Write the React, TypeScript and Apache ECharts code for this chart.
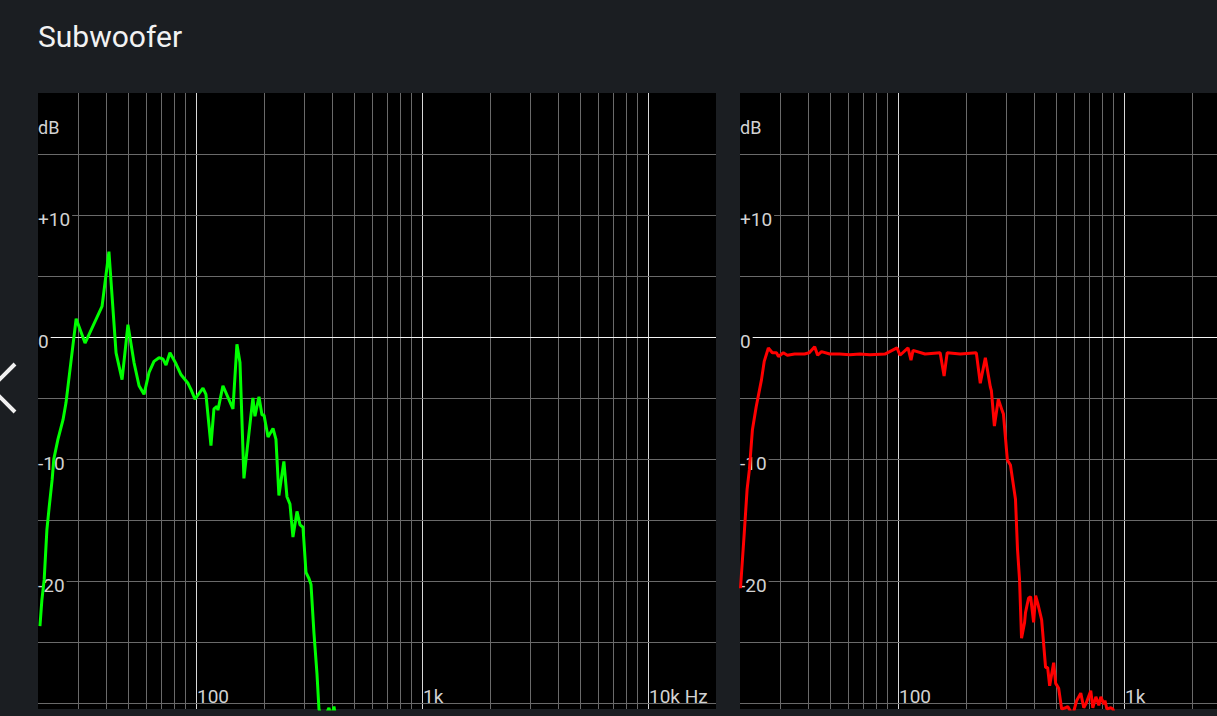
import { useEffect, useRef } from 'react';
import * as echarts from 'echarts';

// Left panel: measured subwoofer response (green)
const subFreq = [
  20.4, 20.8, 21.3, 21.9, 22.4, 23.1, 23.5, 24.5, 25.8, 26.6, 29.5, 32.3, 38.4, 41.2, 44.3, 47.1,
  50.0, 53.2, 56.0, 58.9, 62.0, 65.2, 68.6, 71.4, 73.7, 76.7, 81.6, 85.9, 92.2, 95.0, 99.0,
  107.4, 110.7, 116.5, 120.1, 123.8, 125.1, 131.6, 145.8, 151.8, 156.6, 163.0, 178.6, 182.4,
  190.0, 195.9, 200.0, 208.4, 219.2, 225.9, 232.8, 244.9, 252.7, 260.6, 268.6, 279.9, 288.6,
  297.5, 306.8, 316.2, 322.9, 332.8, 343.1, 350.1, 364.8, 387.6, 398.0, 408.0, 429.5,
];
const subDb = [
  -23.7, -21.6, -19.9, -15.8, -14.0, -11.7, -10.0, -8.4, -6.8, -5.4, 1.5, -0.5, 2.5, 7.0, -1.3, -3.5,
  1.0, -2.1, -4.0, -4.7, -2.9, -2.0, -1.7, -1.8, -2.3, -1.3, -2.2, -3.1, -3.8, -4.3, -5.1,
  -4.2, -4.7, -8.9, -5.9, -5.7, -6.0, -4.0, -5.9, -0.6, -2.1, -11.6, -5.0, -6.5,
  -4.9, -6.4, -6.4, -8.2, -7.5, -8.4, -13.0, -10.2, -13.1, -13.7, -16.4, -14.3, -15.4,
  -15.6, -19.3, -19.8, -20.3, -24.3, -27.6, -30.5, -31.5, -30.4, -31.2, -30.3, -33.0,
];

// Right panel: filtered response (red)
const xoFreq = [
  20.1, 20.9, 21.5, 22.0, 22.7, 23.6, 24.9, 25.6, 26.7, 27.8, 29.0, 29.6, 31.1, 32.4, 34.9, 38.6,
  40.5, 42.8, 44.1, 45.9, 49.9, 55.2, 61.2, 67.8, 75.1, 87.5, 99.0, 102.1, 110.8, 114.2, 116.6,
  131.8, 153.7, 160.0, 165.1, 188.6, 222.2, 231.3, 243.6, 256.3, 259.0, 267.1, 278.0, 289.8,
  292.8, 304.9, 314.5, 331.1, 338.0, 345.1, 352.2, 363.3, 366.7, 378.4, 386.4, 398.3, 406.6,
  415.0, 432.3, 450.0, 459.5, 469.0, 488.6, 498.6, 514.0, 530.0, 552.0, 564.0, 593.0, 618.0,
  644.0, 664.0, 678.0, 713.0, 728.0, 751.0, 774.0, 790.0, 815.0, 824.0, 840.0, 875.0, 893.0, 950.0,
];
const xoDb = [
  -20.6, -16.0, -12.5, -10.9, -7.6, -5.7, -3.5, -2.0, -0.9, -1.3, -1.3, -1.6, -1.3, -1.5, -1.4, -1.4,
  -1.3, -0.8, -1.5, -1.2, -1.4, -1.4, -1.45, -1.4, -1.45, -1.4, -0.9, -1.5, -0.9, -1.9, -1.1,
  -1.4, -1.3, -3.2, -1.3, -1.4, -1.3, -3.8, -1.7, -4.1, -4.4, -7.3, -5.1, -6.1,
  -6.3, -10.1, -10.5, -13.3, -17.4, -19.9, -24.7, -23.4, -22.6, -21.4, -21.3, -23.4, -21.2,
  -21.8, -23.2, -27.1, -27.1, -28.6, -26.7, -28.4, -28.8, -30.5, -30.4, -30.3, -31.0, -29.8,
  -29.2, -30.4, -30.1, -29.0, -30.4, -29.5, -30.2, -29.5, -30.1, -29.8, -30.5, -30.4, -30.5, -32.0,
];

const minorFreqLines = [
  30, 40, 50, 60, 70, 80, 90,
  200, 300, 400, 500, 600, 700, 800, 900,
  2000, 3000, 4000, 5000, 6000, 7000, 8000, 9000,
];
const decadeFreqLines = [100, 1000, 10000];
const dbGridLines = [-30, -25, -20, -15, -10, -5, 5, 10, 15];
const dbZeroLine = [0];
const dbTickLabels = [-20, -10, 0, 10];
const freqTickNamesLeft: Record<number, string> = { 100: '100', 1000: '1k', 10000: '10k Hz' };
// right panel is cut off by the window before its 10k label
const freqTickNamesRight: Record<number, string> = { 100: '100', 1000: '1k' };

const BG = '#1b1e22';
const MINOR = '#6a6a6a';
const MAJOR = '#d8d8d8';
const ZERO = '#f4f4f4';
const LABEL = '#d2d2d2';
const FONT = 'Roboto, "Noto Sans", sans-serif';

function gridLineData() {
  return [
    ...minorFreqLines.map((f) => ({ xAxis: f, lineStyle: { color: MINOR, width: 1, type: 'solid' } })),
    ...decadeFreqLines.map((f) => ({ xAxis: f, lineStyle: { color: MAJOR, width: 1, type: 'solid' } })),
    ...dbGridLines.map((d) => ({ yAxis: d, lineStyle: { color: MINOR, width: 1, type: 'solid' } })),
    ...dbZeroLine.map((d) => ({ yAxis: d, lineStyle: { color: ZERO, width: 1, type: 'solid' } })),
  ];
}

function makeXAxis(gridIndex: number, names: Record<number, string>) {
  return {
    type: 'log',
    logBase: 10,
    min: 20,
    max: 20000,
    gridIndex,
    z: 6,
    axisLine: { show: false },
    axisTick: { show: false },
    splitLine: { show: false },
    axisLabel: {
      inside: true,
      showMinLabel: false,
      showMaxLabel: false,
      margin: 3,
      align: 'left',
      padding: [0, 0, 0, 1],
      color: LABEL,
      fontSize: 19,
      fontFamily: FONT,
      formatter: (v: number) => names[Math.round(v)] ?? '',
    },
  };
}

function makeYAxis(gridIndex: number) {
  return {
    type: 'value',
    min: -30.5,
    max: 20,
    gridIndex,
    z: 6,
    name: 'dB',
    nameLocation: 'end',
    nameGap: -34,
    nameTextStyle: { align: 'left', verticalAlign: 'middle', color: LABEL, fontSize: 18, fontFamily: FONT },
    axisLine: { show: false },
    axisTick: { show: false },
    splitLine: { show: false },
    axisLabel: {
      inside: true,
      customValues: dbTickLabels,
      margin: 0,
      color: LABEL,
      fontSize: 19,
      fontFamily: FONT,
      verticalAlign: 'top',
      lineHeight: 7,
      backgroundColor: '#000',
      padding: [1, 2, 0, 0],
      formatter: (v: number) => (v > 0 ? '+' + v : String(v)),
    },
  };
}

function makeSeries(idx: number, freq: number[], db: number[], color: string) {
  return {
    type: 'line',
    xAxisIndex: idx,
    yAxisIndex: idx,
    z: 10,
    showSymbol: false,
    symbol: 'none',
    clip: true,
    silent: true,
    data: freq.map((f, i) => [f, db[i]]),
    lineStyle: { color, width: 3 },
    markLine: {
      silent: true,
      symbol: ['none', 'none'],
      label: { show: false },
      animation: false,
      data: gridLineData(),
    },
  };
}

export default function App() {
  const ref = useRef<HTMLDivElement>(null);
  useEffect(() => {
    if (!ref.current) return;
    const chart = echarts.init(ref.current, undefined, { renderer: 'svg' });
    chart.setOption({
      animation: false,
      backgroundColor: BG,
      title: {
        text: 'Subwoofer',
        left: 38,
        top: 21,
        padding: 0,
        textStyle: { color: '#f2f2f2', fontSize: 30, fontWeight: 'normal', fontFamily: FONT },
      },
      grid: [
        { left: 38, top: 93, width: 678, height: 616, show: true, backgroundColor: '#000', borderWidth: 0, outerBoundsMode: 'none', containLabel: false },
        { left: 740, top: 93, width: 678, height: 616, show: true, backgroundColor: '#000', borderWidth: 0, outerBoundsMode: 'none', containLabel: false },
      ],
      xAxis: [makeXAxis(0, freqTickNamesLeft), makeXAxis(1, freqTickNamesRight)],
      yAxis: [makeYAxis(0), makeYAxis(1)],
      series: [
        makeSeries(0, subFreq, subDb, '#00ff00'),
        makeSeries(1, xoFreq, xoDb, '#ff0000'),
      ],
      graphic: [
        {
          type: 'polyline',
          silent: true,
          shape: { points: [[15, 364], [-9, 388], [15, 412]] },
          style: { stroke: '#f0f0f0', lineWidth: 4, fill: null },
        },
      ],
    });
    return () => chart.dispose();
  }, []);
  return (
    <div style={{ position: 'fixed', left: 0, top: 0, width: 1217, height: 716, overflow: 'hidden', background: BG }}>
      <div ref={ref} style={{ width: 1440, height: 716 }} />
    </div>
  );
}
